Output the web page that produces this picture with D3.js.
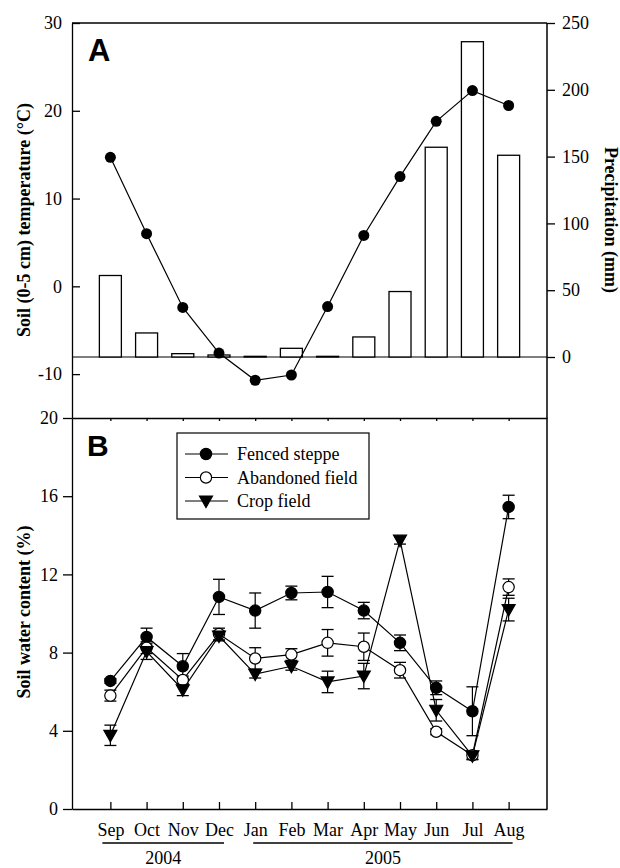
<!DOCTYPE html>
<html>
<head>
<meta charset="utf-8">
<script src="https://cdn.jsdelivr.net/npm/d3@7"></script>
<style>
  body { margin: 0; background: #fff; }
  text { font-family: "Liberation Serif", "Times New Roman", serif; fill: #000; }
  .axis path, .axis line { stroke: #000; stroke-width: 1.3; }
  .axis text { font-family: "Liberation Serif", serif; font-size: 18px; fill: #000; }
</style>
</head>
<body>
<div id="chart"></div>
<script>
// months and data
var months = ["Sep", "Oct", "Nov", "Dec", "Jan", "Feb", "Mar", "Apr", "May", "Jun", "Jul", "Aug"];
var years = [{label: "2004", from: "Sep", to: "Dec"}, {label: "2005", from: "Jan", to: "Aug"}];

var soilTemp = [14.7, 6.0, -2.4, -7.6, -10.7, -10.1, -2.3, 5.8, 12.5, 18.8, 22.3, 20.6];
var precip = [61, 18, 2.5, 1.5, 0.5, 6.5, 0.5, 15, 49, 157, 236, 151];

var fencedMean = [6.55, 8.8, 7.3, 10.85, 10.15, 11.05, 11.1, 10.15, 8.5, 6.2, 5.0, 15.45];
var fencedErr  = [0.12, 0.45, 0.65, 0.9, 0.9, 0.35, 0.8, 0.42, 0.4, 0.35, 1.25, 0.6];
var abandMean  = [5.8, 8.25, 6.6, 8.95, 7.7, 7.9, 8.5, 8.3, 7.1, 3.95, 2.75, 11.35];
var abandErr   = [0.28, 0.3, 0.2, 0.3, 0.55, 0.3, 0.68, 0.7, 0.4, 0.15, 0.2, 0.42];
var cropMean   = [3.77, 8.05, 6.1, 8.85, 6.9, 7.3, 6.5, 6.8, 13.75, 5.05, 2.72, 10.2];
var cropErr    = [0.52, 0.4, 0.3, 0.25, 0.2, 0.2, 0.55, 0.65, 0.2, 0.55, 0.2, 0.58];

var tempTicks = [-10, 0, 10, 20, 30];
var precipTicks = [0, 50, 100, 150, 200, 250];
var waterTicks = [0, 4, 8, 12, 16, 20];

// frame
var W = 620, H = 868;
var left = 72, right = 547;
var aTop = 23, aBottom = 418, bBottom = 809;

var svg = d3.select("#chart").append("svg")
    .attr("width", W)
    .attr("height", H);

var x = d3.scalePoint().domain(months).range([left, right]).padding(1.06);
var plain = function(d) { return String(d); };  // hyphen minus like the original

// ---------- panel A ----------
var yT = d3.scaleLinear().domain([-15, 30]).range([aBottom, aTop]);
var yP = d3.scaleLinear().domain([0, 250]).range([357, aTop]);

// top border
svg.append("line")
    .attr("x1", left).attr("x2", right)
    .attr("y1", aTop).attr("y2", aTop)
    .attr("stroke", "#000").attr("stroke-width", 1.5);

// left axis (ticks inside)
svg.append("g")
    .attr("class", "axis")
    .attr("transform", "translate(" + left + ",0)")
    .call(d3.axisLeft(yT).tickValues(tempTicks).tickFormat(plain)
        .tickSizeInner(-8).tickSizeOuter(0).tickPadding(10));

// right axis
svg.append("line")
    .attr("x1", right).attr("x2", right)
    .attr("y1", aTop).attr("y2", bBottom)
    .attr("stroke", "#000").attr("stroke-width", 1.5);

svg.append("g")
    .attr("class", "axis")
    .attr("transform", "translate(" + right + ",0)")
    .call(d3.axisRight(yP).tickValues(precipTicks).tickFormat(plain).tickSize(8).tickPadding(7))
    .call(function(g) { g.select(".domain").remove(); });

// zero precipitation line
svg.append("line")
    .attr("x1", left).attr("x2", right)
    .attr("y1", yP(0)).attr("y2", yP(0))
    .attr("stroke", "#000").attr("stroke-width", 1.2);

// precipitation bars
var barW = 22;
svg.selectAll(".bar")
    .data(precip)
    .enter().append("rect")
    .attr("class", "bar")
    .attr("x", function(d, i) { return x(months[i]) - barW / 2; })
    .attr("y", function(d) { return yP(d); })
    .attr("width", barW)
    .attr("height", function(d) { return yP(0) - yP(d); })
    .attr("fill", "#fff")
    .attr("stroke", "#000")
    .attr("stroke-width", 1.3);

// temperature line
var tempLine = d3.line()
    .x(function(d, i) { return x(months[i]); })
    .y(function(d) { return yT(d); });

svg.append("path")
    .datum(soilTemp)
    .attr("d", tempLine)
    .attr("fill", "none")
    .attr("stroke", "#000")
    .attr("stroke-width", 1.2);

svg.selectAll(".tdot")
    .data(soilTemp)
    .enter().append("circle")
    .attr("class", "tdot")
    .attr("cx", function(d, i) { return x(months[i]); })
    .attr("cy", function(d) { return yT(d); })
    .attr("r", 5.5)
    .attr("fill", "#000");

// panel A bottom axis (small ticks)
svg.append("g")
    .attr("class", "axis")
    .attr("transform", "translate(0," + aBottom + ")")
    .call(d3.axisBottom(x).tickSize(3).tickSizeOuter(0).tickFormat(""))
    .call(function(g) { g.select(".domain").attr("stroke-width", 2); });

svg.append("text")
    .attr("x", 88).attr("y", 61)
    .style("font-family", "'Liberation Sans', Arial, sans-serif")
    .style("font-weight", "bold")
    .style("font-size", "31px")
    .text("A");

// axis titles A
svg.append("text")
    .attr("transform", "translate(24,220) rotate(-90)")
    .attr("text-anchor", "middle")
    .attr("dominant-baseline", "central")
    .style("font-weight", "bold")
    .style("font-size", "18px")
    .text("Soil (0-5 cm) temperature (\u00B0C)");

svg.append("text")
    .attr("transform", "translate(611,220) rotate(90)")
    .attr("text-anchor", "middle")
    .attr("dominant-baseline", "central")
    .style("font-weight", "bold")
    .style("font-size", "18px")
    .text("Precipitation (mm)");

// ---------- panel B ----------
var yW = d3.scaleLinear().domain([0, 20]).range([bBottom, aBottom]);

svg.append("g")
    .attr("class", "axis")
    .attr("transform", "translate(" + left + ",0)")
    .call(d3.axisLeft(yW).tickValues(waterTicks).tickFormat(plain)
        .tickSize(9).tickPadding(5).tickSizeOuter(0));

svg.append("g")
    .attr("class", "axis")
    .attr("transform", "translate(0," + bBottom + ")")
    .call(d3.axisBottom(x).tickSizeInner(-7).tickSizeOuter(0).tickPadding(14))
    .call(function(g) { g.selectAll("text").attr("dy", "0.71em"); });

var series = [
  {name: "Fenced steppe", mean: fencedMean, err: fencedErr, symbol: "circle", fill: "#000"},
  {name: "Abandoned field", mean: abandMean, err: abandErr, symbol: "circle", fill: "#fff"},
  {name: "Crop field", mean: cropMean, err: cropErr, symbol: "tri", fill: "#000"}
];

var waterLine = d3.line()
    .x(function(d, i) { return x(months[i]); })
    .y(function(d) { return yW(d); });

function markerPath(s) {
  if (s.symbol === "tri") return "M-6.5,-5L6.5,-5L0,6.5Z";
  return d3.symbol().type(d3.symbolCircle).size(100)();
}

series.forEach(function(s) {
  svg.append("path")
      .datum(s.mean)
      .attr("d", waterLine)
      .attr("fill", "none")
      .attr("stroke", "#000")
      .attr("stroke-width", 1.2);
});

// error bars
series.forEach(function(s) {
  var g = svg.append("g");
  s.mean.forEach(function(m, i) {
    var cx = x(months[i]);
    var y1 = yW(m + s.err[i]), y2 = yW(m - s.err[i]);
    g.append("line").attr("x1", cx).attr("x2", cx).attr("y1", y1).attr("y2", y2)
        .attr("stroke", "#000").attr("stroke-width", 1.2);
    [y1, y2].forEach(function(yy) {
      g.append("line").attr("x1", cx - 6).attr("x2", cx + 6).attr("y1", yy).attr("y2", yy)
          .attr("stroke", "#000").attr("stroke-width", 1.3);
    });
  });
});

series.forEach(function(s) {
  svg.selectAll(null)
      .data(s.mean)
      .enter().append("path")
      .attr("transform", function(d, i) { return "translate(" + x(months[i]) + "," + yW(d) + ")"; })
      .attr("d", markerPath(s))
      .attr("fill", s.fill)
      .attr("stroke", "#000")
      .attr("stroke-width", 1.2);
});

// legend
var legend = svg.append("g");
legend.append("rect")
    .attr("x", 177).attr("y", 433)
    .attr("width", 192).attr("height", 86)
    .attr("fill", "#fff").attr("stroke", "#000").attr("stroke-width", 1.2);

series.forEach(function(s, i) {
  var ly = 454 + i * 23.5;
  legend.append("line")
      .attr("x1", 185).attr("x2", 228).attr("y1", ly).attr("y2", ly)
      .attr("stroke", "#000").attr("stroke-width", 1.2);
  legend.append("path")
      .attr("transform", "translate(206," + ly + ")")
      .attr("d", markerPath(s))
      .attr("fill", s.fill)
      .attr("stroke", "#000")
      .attr("stroke-width", 1.2);
  legend.append("text")
      .attr("x", 237).attr("y", ly)
      .attr("dominant-baseline", "central")
      .style("font-size", "18px")
      .text(s.name);
});

svg.append("text")
    .attr("x", 87).attr("y", 456)
    .style("font-family", "'Liberation Sans', Arial, sans-serif")
    .style("font-weight", "bold")
    .style("font-size", "30px")
    .text("B");

svg.append("text")
    .attr("transform", "translate(24,612) rotate(-90)")
    .attr("text-anchor", "middle")
    .attr("dominant-baseline", "central")
    .style("font-weight", "bold")
    .style("font-size", "18px")
    .text("Soil water content (%)");

// years under months
var yearOffsets = {"2004": [-8, 5], "2005": [-2, 4]};
years.forEach(function(yr) {
  var x1 = x(yr.from) + yearOffsets[yr.label][0];
  var x2 = x(yr.to) + yearOffsets[yr.label][1];
  svg.append("line")
      .attr("x1", x1).attr("x2", x2).attr("y1", 843).attr("y2", 843)
      .attr("stroke", "#000").attr("stroke-width", 1.3);
  svg.append("text")
      .attr("x", (x1 + x2) / 2).attr("y", 864)
      .attr("text-anchor", "middle")
      .style("font-size", "18px")
      .text(yr.label);
});
</script>
</body>
</html>
